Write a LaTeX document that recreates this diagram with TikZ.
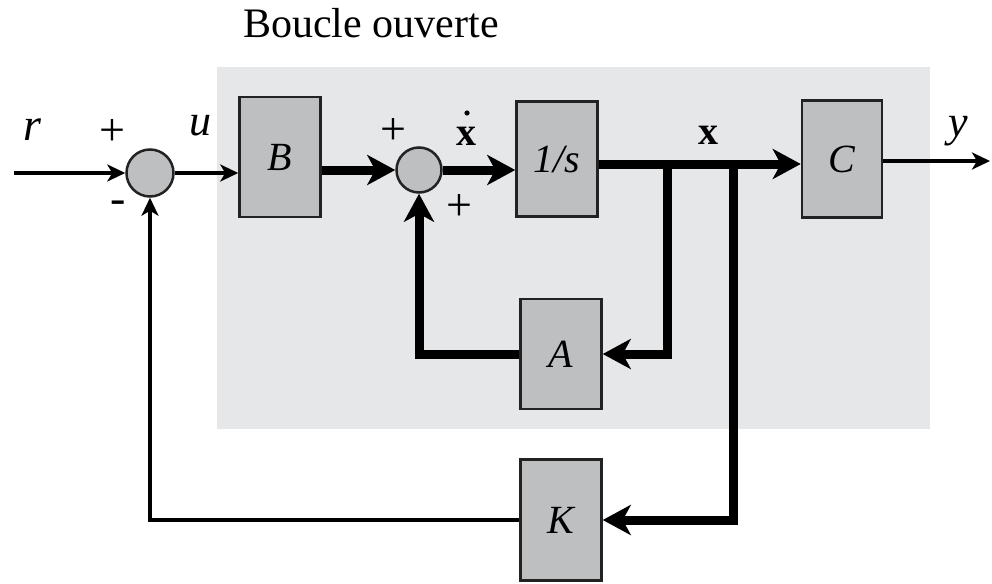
\documentclass[tikz,border=0pt]{standalone}
\usepackage{fontspec}
\setmainfont{Liberation Serif}
\usetikzlibrary{arrows.meta}
\definecolor{bgzone}{HTML}{E6E7E9}
\definecolor{boxfill}{HTML}{BEBFC1}
\definecolor{boxline}{HTML}{222222}
\tikzset{
  blk/.style={draw=boxline, line width=2.5pt, fill=boxfill, rectangle, minimum width=81pt, inner sep=0pt,
    font=\fontsize{40}{46}\selectfont\itshape},
  summer/.style={draw=boxline, line width=2.5pt, fill=boxfill, circle, inner sep=0pt},
  thinar/.style={line width=3.5pt, -{Stealth[length=18pt,width=17pt,inset=5pt]}},
  thickar/.style={line width=9pt, -{Stealth[length=28pt,width=30pt,inset=8pt]}},
  lbl/.style={font=\fontsize{46}{52}\selectfont, inner sep=0pt},
  mlbl/.style={font=\fontsize{44}{50}\selectfont\itshape, inner sep=0pt},
  vlbl/.style={font=\fontsize{40}{46}\selectfont\bfseries, inner sep=0pt},
}
\begin{document}
\begin{tikzpicture}[x=1pt,y=-1pt]
\useasboundingbox (0,0) rectangle (992,583);
\fill[bgzone] (217,67) rectangle (930,429);
\node[font=\fontsize{42}{50}\selectfont, inner sep=0pt, anchor=base] (title) at (371,38) {Boucle ouverte};

\node[summer, minimum size=47pt] (s1) at (150,173) {};
\node[blk, minimum height=120pt] (B) at (280,157) {B};
\node[summer, minimum size=45pt] (s2) at (419,170) {};
\node[blk, minimum height=115pt] (I) at (557,159) {1/s};
\node[blk, minimum width=80pt, minimum height=117pt] (C) at (842,159) {C};
\node[blk, minimum height=110pt] (A) at (561,354) {A};
\node[blk, minimum height=121pt] (K) at (561,520) {K};

\coordinate (rin) at (14,173);
\coordinate (yout) at (990,161);
\coordinate (xl) at (600,164);
\coordinate (br1) at (667,164);
\coordinate (br2) at (733,164);

% labels
\node[mlbl, font=\fontsize{46}{52}\selectfont\itshape] (lr) at (32,130) {r};
\node[lbl] (lp1) at (112,133) {+};
\node[lbl] (lm1) at (118,207) {-};
\node[mlbl] (lu) at (200,126) {u};
\node[lbl] (lp2) at (393,132) {+};
\node[lbl] (lp3) at (459,208) {+};
\node[vlbl] (lxd) at (466,136) {x};
\fill (467,113) circle (2.6pt);
\node[vlbl] (lx) at (708,135) {x};
\node[mlbl] (ly) at (958,131) {y};

% connectors
\draw[thinar] (rin) -- (s1.west);
\draw[thinar] (s1.east) -- (s1 -| B.west);
\draw[thickar] (B.east |- s2) -- (s2.west);
\draw[thickar] (s2.east) -- (s2 -| I.west);
\draw[thickar] (I.east |- xl) -- (C.west |- xl);
\draw[thinar] (C.east |- yout) -- (yout);
\draw[thickar] (br1) |- (A.east);
\draw[thickar] (A.west) -| (s2.south);
\draw[thickar] (br2) |- (K.east);
\draw[thinar] (K.west) -| (s1.south);
\end{tikzpicture}
\end{document}
